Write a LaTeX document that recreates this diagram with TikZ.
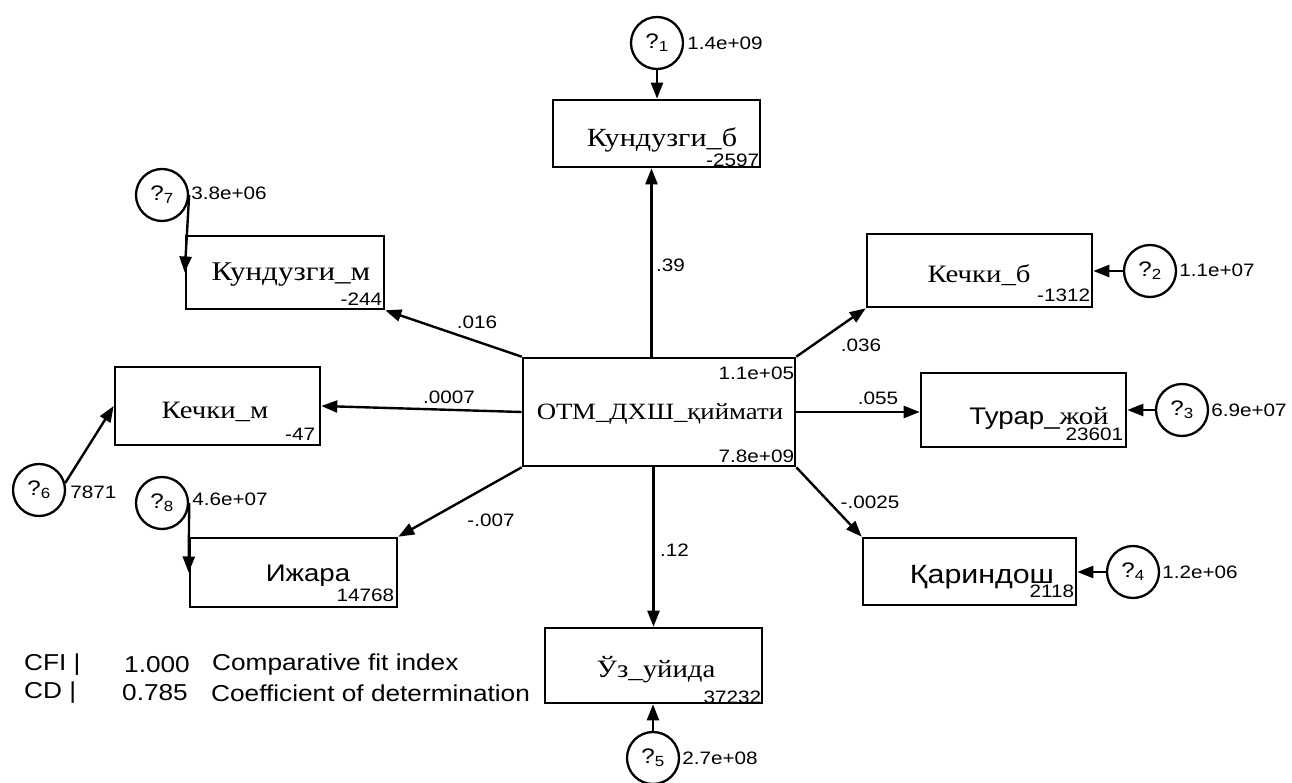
\documentclass[tikz,border=0pt]{standalone}
\usepackage{fontspec}
\setmainfont{Liberation Serif}
\newfontfamily\nm{Liberation Serif}[FakeStretch=1.15]
\newfontfamily\ns{Liberation Sans}[FakeStretch=1.15]
\newfontfamily\nf{Liberation Sans}[FakeStretch=1.14]
\usetikzlibrary{shapes.geometric,arrows.meta,calc}
\tikzset{
  box/.style={draw, line width=2.6pt, rectangle, inner sep=0pt},
  err/.style={draw, circle, line width=2.3pt, minimum size=52pt, inner sep=0pt, font=\ns\fontsize{21}{21}\selectfont},
  arr/.style={line width=2.4pt, -{Triangle[length=16pt,width=12pt]}},
  num/.style={font=\ns\fontsize{18}{18}\selectfont, inner sep=0pt},
  nmtext/.style={font=\nm\fontsize{25}{25}\selectfont, inner sep=0pt},
  sntext/.style={font=\ns\fontsize{24}{24}\selectfont, inner sep=0pt},
  fit/.style={font=\nf\fontsize{23}{23}\selectfont, inner sep=0pt, anchor=west}
}
\newcommand{\eps}[1]{?\textsubscript{#1}}
\begin{document}
\begin{tikzpicture}[x=1pt,y=-1pt]
\useasboundingbox (0,0) rectangle (1292,783);
% boxes
\node[box, minimum width=272pt, minimum height=108pt] (C) at (659,412) {};
\node[box, minimum width=207pt, minimum height=67pt] (b1) at (656.5,133.5) {};
\node[box, minimum width=198pt, minimum height=73pt] (b7) at (285,272.5) {};
\node[box, minimum width=205pt, minimum height=78pt] (b6) at (217.5,406) {};
\node[box, minimum width=207pt, minimum height=69pt] (b8) at (293.5,572.5) {};
\node[box, minimum width=225pt, minimum height=73pt] (b2) at (979.5,270.5) {};
\node[box, minimum width=205pt, minimum height=74pt] (b3) at (1023.5,410) {};
\node[box, minimum width=213pt, minimum height=67pt] (b4) at (969.5,571.5) {};
\node[box, minimum width=217pt, minimum height=75pt] (b5) at (653.5,665.5) {};
\coordinate (b1in) at ($(b1.south)+(-5,0)$);
% names
\node[inner sep=0pt, font=\nm\fontsize{23.3}{23.3}\selectfont] (Ct) at (660,414) {ОТМ\_ДХШ\_қиймати};
\node[inner sep=0pt, font=\nm\fontsize{26.2}{26.2}\selectfont] (b1t) at (662,140) {Кундузги\_б};
\node[inner sep=0pt, font=\nm\fontsize{27}{27}\selectfont] (b7t) at (291,275) {Кундузги\_м};
\node[nmtext] (b6t) at (215,412) {Кечки\_м};
\node[sntext] (b8t) at (308,576) {Ижара};
\node[nmtext] (b2t) at (979,275) {Кечки\_б};
\node[inner sep=0pt] (b3t) at (1039,418) {{\ns\fontsize{24}{24}\selectfont Турар\_}{\nm\fontsize{25}{25}\selectfont жой}};
\node[inner sep=0pt, font=\ns\fontsize{26.4}{26.4}\selectfont] (b4t) at (982,577) {Қариндош};
\node[nmtext] (b5t) at (656,670) {Ўз\_уйида};
% intercepts
\node[num, anchor=north east] (Ci1) at ($(C.north east)+(-2,10)$) {1.1e+05};
\node[num, anchor=south east] (Ci2) at ($(C.south east)+(-2,-4)$) {7.8e+09};
\node[num, anchor=south east] (b1i) at ($(b1.south east)+(-2,-1)$) {-2597};
\node[num, anchor=south east] (b7i) at ($(b7.south east)+(-3,-5)$) {-244};
\node[num, anchor=south east] (b6i) at ($(b6.south east)+(-6,-6)$) {-47};
\node[num, anchor=south east] (b8i) at ($(b8.south east)+(-4,-6)$) {14768};
\node[num, anchor=south east] (b2i) at ($(b2.south east)+(-3,-6)$) {-1312};
\node[num, anchor=south east] (b3i) at ($(b3.south east)+(-4,-7)$) {23601};
\node[num, anchor=south east] (b4i) at ($(b4.south east)+(-3,-8)$) {2118};
\node[num, anchor=south east] (b5i) at ($(b5.south east)+(-2,0)$) {37232};
% errors
\node[err] (e1) at (657,43) {\eps{1}};
\node[err] (e7) at (162,195) {\eps{7}};
\node[err] (e6) at (39,490) {\eps{6}};
\node[err] (e8) at (162,503) {\eps{8}};
\node[err] (e2) at (1150,271) {\eps{2}};
\node[err] (e3) at (1182,410) {\eps{3}};
\node[err] (e4) at (1133,572) {\eps{4}};
\node[err] (e5) at (653,758) {\eps{5}};
\node[num, anchor=west] (e1v) at ($(e1.east)+(3,0)$) {1.4e+09};
\node[num, anchor=west] (e7v) at ($(e7.east)+(2,-2)$) {3.8e+06};
\node[num, anchor=west] (e6v) at ($(e6.east)+(4,2)$) {7871};
\node[num, anchor=west] (e8v) at ($(e8.east)+(3,-4)$) {4.6e+07};
\node[num, anchor=west] (e2v) at ($(e2.east)+(2,-1)$) {1.1e+07};
\node[num, anchor=west] (e3v) at ($(e3.east)+(2,0)$) {6.9e+07};
\node[num, anchor=west] (e4v) at ($(e4.east)+(2,0)$) {1.2e+06};
\node[num, anchor=west] (e5v) at ($(e5.east)+(2,0)$) {2.7e+08};
% connectors
\draw[arr] (e1.south) -- (e1.south |- b1.north);
\draw[arr] (b1in |- C.north) -- (b1in);
\draw[arr] (b5.north |- C.south) -- (b5.north);
\draw[arr] (e5.north) -- (e5.north |- b5.south);
\draw[arr] (C.north west) -- (b7.south east);
\draw[arr] (C.west) -- (b6.east);
\draw[arr] (C.south west) -- (b8.north east);
\draw[arr] (C.north east) -- (b2.south west);
\draw[arr] (C.east) -- (C.east -| b3.west);
\draw[arr] (C.south east) -- (b4.north west);
\draw[arr] (e2.west) -- (e2.west -| b2.east);
\draw[arr] (e3.west) -- (e3.west -| b3.east);
\draw[arr] (e4.west) -- (e4.west -| b4.east);
\draw[arr] (e7.east) -- (b7.west);
\draw[arr] (e8.east) -- (b8.west);
\draw[arr] (e6.15) -- (b6.west);
% path labels
\node[num, anchor=west] (l1) at (656,265) {.39};
\node[num] (l7) at (477,322) {.016};
\node[num] (l6) at (449,397) {.0007};
\node[num] (l8) at (491,520) {-.007};
\node[num] (l2) at (861,345) {.036};
\node[num] (l3) at (878,398) {.055};
\node[num] (l4) at (870,502) {-.0025};
\node[num, anchor=west] (l5) at (660,550) {.12};
% fit statistics
\node[fit] (f1) at (24,665) {CFI |};
\node[fit] (f2) at (124,665) {1.000};
\node[fit] (f3) at (212,665) {Comparative fit index};
\node[fit] (f4) at (24,693) {CD |};
\node[fit] (f5) at (122,693) {0.785};
\node[fit] (f6) at (211,693) {Coefficient of determination};
\end{tikzpicture}
\end{document}
